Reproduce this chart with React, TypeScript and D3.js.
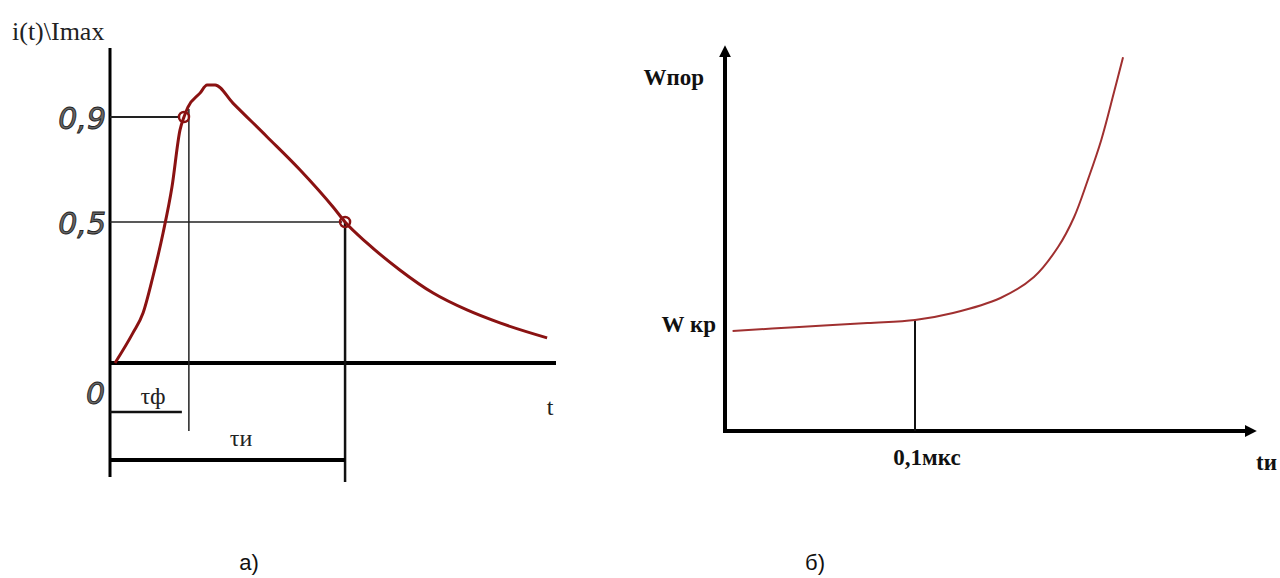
import React, { useEffect, useRef } from "react";
import * as d3 from "d3";

// а) normalized current pulse i(t)/Imax
const pulseT = [0.9, 4.9, 7.2, 9.4, 11.7, 13.7, 15.5, 16.4, 17.3, 20, 21.6, 23.4, 27.4, 35.1, 42.5, 49.9, 52.6, 57.5, 64.9, 72.4, 80, 87.4, 98];
const pulseI = [0, 0.106, 0.177, 0.305, 0.461, 0.633, 0.85, 0.9, 0.938, 0.991, 1.022, 1.022, 0.953, 0.824, 0.698, 0.557, 0.5, 0.426, 0.33, 0.248, 0.188, 0.142, 0.089];
const levelValues = [0.9, 0.5, 0];
const levelLabels = ["0,9", "0,5", "0"];
const levelT = [16.4, 52.6];
const tauF = 17.5;
const tauI = 52.6;

// б) threshold energy vs pulse width
const widthT = [0.004, 0.039, 0.075, 0.1, 0.12, 0.145, 0.1626, 0.1753, 0.1837, 0.191, 0.198, 0.2047, 0.2095];
const wThreshold = [0.987, 1.027, 1.066, 1.096, 1.165, 1.313, 1.52, 1.816, 2.11, 2.48, 2.87, 3.34, 3.69];
const wKr = 1;
const markT = 0.1;

const RED = "#8a1212";

export default function App() {
  const ref = useRef<SVGSVGElement>(null);

  useEffect(() => {
    const svg = d3.select(ref.current);
    svg.selectAll("*").remove();

    // ---------- left chart ----------
    const xL = d3.scaleLinear().domain([0, 100]).range([111, 556]);
    const yL = d3.scaleLinear().domain([0, 0.5, 0.9]).range([363, 222, 117]);
    const gL = svg.append("g");
    const x0 = xL(0) - 1;

    gL.append("line").attr("x1", x0).attr("x2", x0).attr("y1", 48).attr("y2", 477)
      .attr("stroke", "#000").attr("stroke-width", 3);
    gL.append("line").attr("x1", x0).attr("x2", 556).attr("y1", yL(0)).attr("y2", yL(0))
      .attr("stroke", "#000").attr("stroke-width", 4);

    // level lines
    gL.append("line").attr("x1", x0).attr("x2", xL(levelT[0]) - 4).attr("y1", yL(0.9)).attr("y2", yL(0.9))
      .attr("stroke", "#222").attr("stroke-width", 2);
    gL.append("line").attr("x1", x0).attr("x2", xL(levelT[1]) - 3).attr("y1", yL(0.5)).attr("y2", yL(0.5))
      .attr("stroke", "#222").attr("stroke-width", 1.5);
    gL.append("line").attr("x1", xL(tauF)).attr("x2", xL(tauF)).attr("y1", yL(0.9) - 8).attr("y2", 431)
      .attr("stroke", "#222").attr("stroke-width", 1.5);
    gL.append("line").attr("x1", xL(tauI)).attr("x2", xL(tauI)).attr("y1", yL(0.5)).attr("y2", 482)
      .attr("stroke", "#111").attr("stroke-width", 2.5);

    // duration brackets
    gL.append("line").attr("x1", x0).attr("x2", xL(tauF) - 7).attr("y1", 412).attr("y2", 412)
      .attr("stroke", "#111").attr("stroke-width", 2.5);
    gL.append("line").attr("x1", x0).attr("x2", xL(tauI)).attr("y1", 460).attr("y2", 460)
      .attr("stroke", "#000").attr("stroke-width", 4);

    const lineL = d3.line<number>().x((d, i) => xL(pulseT[i])).y(d => yL(d)).curve(d3.curveMonotoneX);
    gL.append("path").datum(pulseI).attr("d", lineL).attr("fill", "none")
      .attr("stroke", RED).attr("stroke-width", 3).attr("stroke-linejoin", "round");

    gL.selectAll(".mark").data(levelT).join("circle").attr("class", "mark")
      .attr("cx", d => xL(d)).attr("cy", (d, i) => yL(levelValues[i]))
      .attr("r", 5).attr("fill", "none").attr("stroke", RED).attr("stroke-width", 2.5);

    gL.selectAll(".lvl").data(levelLabels).join("text").attr("class", "lvl")
      .attr("x", (d, i) => (i === 2 ? 105 : 106)).attr("y", (d, i) => yL(levelValues[i]) + (i === 2 ? 41 : 12))
      .attr("text-anchor", "end").attr("font-family", "'DejaVu Sans', sans-serif").attr("font-style", "italic")
      .attr("font-size", 30).attr("fill", "#666").attr("stroke", "#222").attr("stroke-width", 0.9)
      .text(d => d);

    gL.append("text").attr("x", 12).attr("y", 40).attr("font-family", "'Liberation Serif', serif")
      .attr("font-size", 26).attr("fill", "#222").text("i(t)\\Imax");
    gL.append("text").attr("x", 153).attr("y", 404).attr("text-anchor", "middle")
      .attr("font-family", "'Liberation Serif', serif").attr("font-size", 24).attr("fill", "#222").text("τф");
    gL.append("text").attr("x", 241).attr("y", 446).attr("text-anchor", "middle")
      .attr("font-family", "'Liberation Serif', serif").attr("font-size", 24).attr("fill", "#222").text("τи");
    gL.append("text").attr("x", 550).attr("y", 415).attr("text-anchor", "middle")
      .attr("font-family", "'Liberation Serif', serif").attr("font-size", 24).attr("fill", "#222").text("t");
    gL.append("text").attr("x", 249).attr("y", 570).attr("text-anchor", "middle")
      .attr("font-family", "'Liberation Sans', sans-serif").attr("font-size", 22).attr("fill", "#111").text("а)");

    // ---------- right chart ----------
    const xR = d3.scaleLinear().domain([0, 0.28]).range([725, 1257]);
    const yR = d3.scaleLinear().domain([0, 3.8]).range([431, 46]);
    const gR = svg.append("g");

    const defs = svg.append("defs");
    defs.append("marker").attr("id", "arr").attr("viewBox", "0 0 10 10").attr("refX", 6).attr("refY", 5)
      .attr("markerWidth", 3).attr("markerHeight", 3).attr("orient", "auto")
      .append("path").attr("d", "M0,0 L10,5 L0,10 z").attr("fill", "#000");

    gR.append("line").attr("x1", xR(0)).attr("x2", xR(0)).attr("y1", yR(0)).attr("y2", 50)
      .attr("stroke", "#000").attr("stroke-width", 4).attr("marker-end", "url(#arr)");
    gR.append("line").attr("x1", xR(0) - 2).attr("x2", 1252).attr("y1", yR(0)).attr("y2", yR(0))
      .attr("stroke", "#000").attr("stroke-width", 4).attr("marker-end", "url(#arr)");

    const idx = widthT.indexOf(markT);
    gR.append("line").attr("x1", xR(markT)).attr("x2", xR(markT)).attr("y1", yR(wThreshold[idx])).attr("y2", yR(0))
      .attr("stroke", "#111").attr("stroke-width", 2);

    const lineR = d3.line<number>().x((d, i) => xR(widthT[i])).y(d => yR(d)).curve(d3.curveCatmullRom.alpha(0.5));
    gR.append("path").datum(wThreshold).attr("d", lineR).attr("fill", "none")
      .attr("stroke", "#a03030").attr("stroke-width", 2);

    const bold = (t: any) => t.attr("font-family", "'Liberation Serif', serif").attr("font-weight", "bold")
      .attr("font-size", 23).attr("fill", "#111");
    gR.append("text").attr("x", 704).attr("y", 85).attr("text-anchor", "end").call(bold).text("Wпор");
    gR.append("text").attr("x", 716).attr("y", yR(wKr) + 2).attr("text-anchor", "end").call(bold).text("W кр");
    gR.append("text").attr("x", xR(markT) + 12).attr("y", 465).attr("text-anchor", "middle").call(bold).text("0,1мкс");
    gR.append("text").attr("x", 1256).attr("y", 470).call(bold).text("tи");
    gR.append("text").attr("x", 815).attr("y", 570).attr("text-anchor", "middle")
      .attr("font-family", "'Liberation Sans', sans-serif").attr("font-size", 22).attr("fill", "#111").text("б)");
  }, []);

  return (
    <svg ref={ref} width={1280} height={578} style={{ position: "absolute", left: 0, top: 0, background: "#fff" }} />
  );
}
